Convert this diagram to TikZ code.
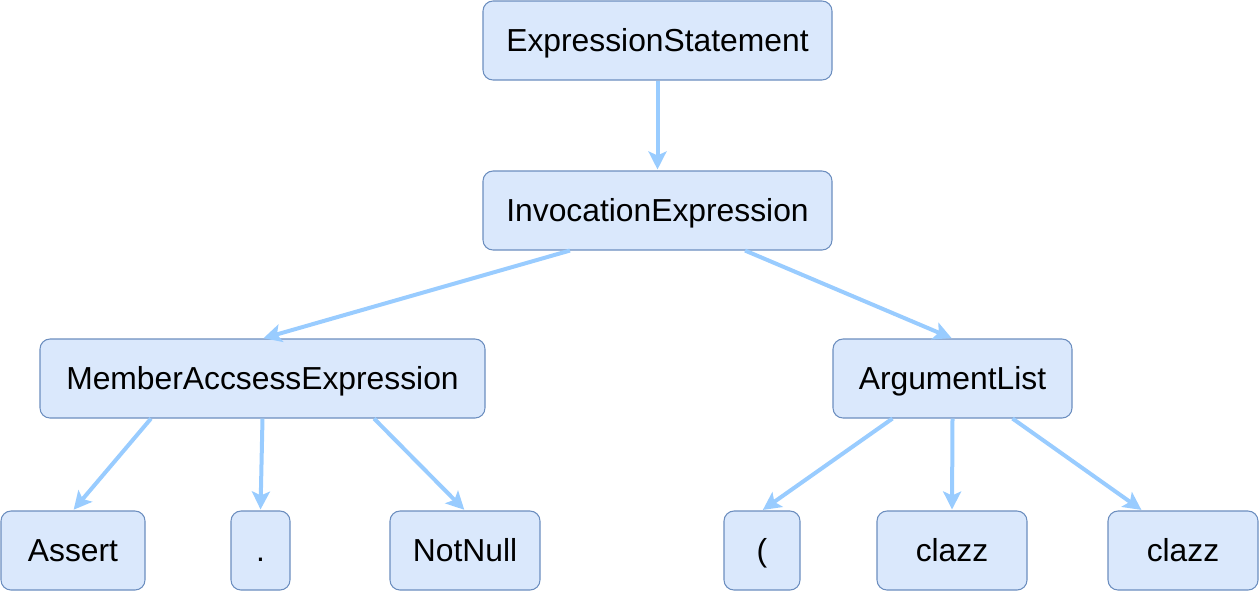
\documentclass[tikz,border=0pt]{standalone}
\usepackage{fontspec}
\setmainfont{Liberation Sans}
\usepackage{xcolor}
\usetikzlibrary{arrows.meta, positioning, calc}
\definecolor{nodefill}{HTML}{DAE8FC}
\definecolor{nodedraw}{HTML}{6C8EBF}
\definecolor{edgeblue}{HTML}{99CCFF}
\begin{document}
\begin{tikzpicture}[
        astnode/.style={rectangle, draw=nodedraw, fill=nodefill, line width=0.6pt, rounded corners=0.2cm, minimum height=1.58cm, inner sep=0pt, text height=12.9pt, text depth=0pt, align=center, font={\fontsize{18.1}{22}\selectfont}},
        line/.style={draw=edgeblue, line width=0.08cm, -{Stealth[length=0.36cm, width=0.36cm, inset=0.08cm]}, shorten >=0.02cm}
    ]
        \useasboundingbox (0,0) rectangle (25.2,-11.82);
        % Root and invocation
        \node (es) [astnode, minimum width=6.98cm] at (13.15, -0.81) {ExpressionStatement};
        \node (inv) [astnode, minimum width=6.98cm] at (13.15, -4.21) {InvocationExpression};
        % Second level
        \node (mae) [astnode, minimum width=8.9cm] at (5.25, -7.57) {MemberAccsessExpression};
        \node (args) [astnode, minimum width=4.78cm] at (19.05, -7.57) {ArgumentList};
        % Leaves
        \node (assert) [astnode, minimum width=2.88cm] at (1.46, -11.01) {Assert};
        \node (dot) [astnode, minimum width=1.18cm] at (5.21, -11.01) {.};
        \node (notnull) [astnode, minimum width=3cm] at (9.3, -11.01) {NotNull};
        \node (lpar) [astnode, minimum width=1.52cm] at (15.24, -11.01) {(};
        \node (clazz1) [astnode, minimum width=3cm] at (19.04, -11.01) {clazz};
        \node (clazz2) [astnode, minimum width=3cm] at (23.66, -11.01) {clazz};
        % Root edges
        \draw [line] (es) -- (inv);
        \draw [line] ($(inv.south west)!0.25!(inv.south east)$) -- (mae.north);
        \draw [line] ($(inv.south west)!0.75!(inv.south east)$) -- (args.north);
        % Member edges
        \draw [line] ($(mae.south west)!0.25!(mae.south east)$) -- (assert.north);
        \draw [line] (mae.south) -- (dot.north);
        \draw [line] ($(mae.south west)!0.75!(mae.south east)$) -- (notnull.north);
        % Argument edges
        \draw [line] ($(args.south west)!0.25!(args.south east)$) -- (lpar.north);
        \draw [line] (args.south) -- (clazz1.north);
        \draw [line] ($(args.south west)!0.75!(args.south east)$) -- ($(clazz2.north west)!0.23!(clazz2.north east)$);
    \end{tikzpicture}
\end{document}
